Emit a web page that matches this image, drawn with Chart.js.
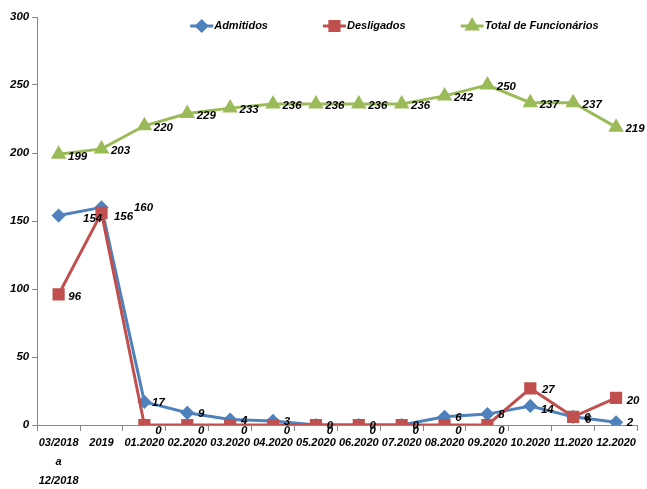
<!DOCTYPE html>
<html>
<head>
<meta charset="utf-8">
<script src="https://cdn.jsdelivr.net/npm/chart.js@4"></script>
<style>
  html, body { margin: 0; padding: 0; background: #fff; }
  #wrap { width: 647px; height: 489px; }
</style>
</head>
<body>
<div id="wrap"><canvas id="myChart"></canvas></div>
<script>
var categories = [['03/2018', 'a', '12/2018'], '2019', '01.2020', '02.2020', '03.2020', '04.2020',
    '05.2020', '06.2020', '07.2020', '08.2020', '09.2020', '10.2020', '11.2020', '12.2020'];
var admitidos = [154, 160, 17, 9, 4, 3, 0, 0, 0, 6, 8, 14, 6, 2];
var desligados = [96, 156, 0, 0, 0, 0, 0, 0, 0, 0, 0, 27, 6, 20];
var totalFunc = [199, 203, 220, 229, 233, 236, 236, 236, 236, 242, 250, 237, 237, 219];
var yTicks = [0, 50, 100, 150, 200, 250, 300];

var FONT = "'Liberation Sans', Arial, sans-serif";
var BLUE = '#4F81BD', RED = '#C0504D', GREEN = '#9BBB59';

// where each value label sits relative to its point
var labelPos = {
    0: { dx: 14, dy: 1, idx: { 0: [34, 3], 1: [42, 0], 11: [17, 4] } },
    1: { dx: 14, dy: 6, idx: { 0: [16, 2], 1: [22, 4], 11: [18, 2], 12: [15, 3], 13: [17, 3] } },
    2: { dx: 19, dy: 2, idx: {} }
};

var valueLabels = {
    id: 'valueLabels',
    afterDatasetsDraw: function (chart) {
        var ctx = chart.ctx;
        ctx.save();
        ctx.font = 'italic bold 11.5px ' + FONT;
        ctx.fillStyle = '#000';
        ctx.textAlign = 'center';
        ctx.textBaseline = 'middle';
        chart.data.datasets.forEach(function (ds, di) {
            var meta = chart.getDatasetMeta(di);
            var p = labelPos[di];
            meta.data.forEach(function (pt, i) {
                var off = p.idx[i] || [p.dx, p.dy];
                ctx.fillText(String(ds.data[i]), pt.x + off[0], pt.y + off[1]);
            });
        });
        ctx.restore();
    }
};

var lineLegend = {
    id: 'lineLegend',
    afterDraw: function (chart) {
        var ctx = chart.ctx;
        var x = chart.chartArea.left + 153;
        var y = 26;
        ctx.save();
        ctx.font = 'italic bold 11px ' + FONT;
        ctx.textBaseline = 'middle';
        chart.data.datasets.forEach(function (ds) {
            ctx.strokeStyle = ds.borderColor;
            ctx.lineWidth = 3;
            ctx.beginPath();
            ctx.moveTo(x, y);
            ctx.lineTo(x + 23, y);
            ctx.stroke();
            Chart.helpers.drawPoint(ctx, {
                pointStyle: ds.pointStyle, radius: ds.pointRadius, rotation: 0, borderWidth: 1
            }, x + 11.5, y);
            ctx.fillStyle = ds.borderColor;
            ctx.fill();
            ctx.fillStyle = '#000';
            ctx.fillText(ds.label, x + 24, y);
            x += 24 + ctx.measureText(ds.label).width + 55;
        });
        ctx.restore();
    }
};

var ctx = document.getElementById('myChart').getContext('2d');
var chart = new Chart(ctx, {
    type: 'line',
    data: {
        labels: categories,
        datasets: [{
            label: 'Admitidos',
            data: admitidos,
            borderColor: BLUE,
            backgroundColor: BLUE,
            borderWidth: 3,
            pointStyle: 'rectRot',
            pointRadius: 5,
            order: 2
        }, {
            label: 'Desligados',
            data: desligados,
            borderColor: RED,
            backgroundColor: RED,
            borderWidth: 3,
            pointStyle: 'rect',
            pointRadius: 6.5,
            order: 1
        }, {
            label: 'Total de Funcionários',
            data: totalFunc,
            borderColor: GREEN,
            backgroundColor: GREEN,
            borderWidth: 3,
            pointStyle: 'triangle',
            pointRadius: 6,
            order: 0
        }]
    },
    options: {
        responsive: true,
        maintainAspectRatio: false,
        animation: false,
        layout: { padding: { left: 7, right: 6, top: 17, bottom: 0 } },
        plugins: {
            legend: { display: false },
            tooltip: { enabled: false }
        },
        scales: {
            x: {
                offset: true,
                grid: { offset: true, drawOnChartArea: false, tickLength: 6, color: '#888' },
                border: { color: '#888' },
                afterFit: function (scale) { scale.height = 64; },
                ticks: {
                    color: '#000',
                    maxRotation: 0,
                    autoSkip: false,
                    padding: 2,
                    font: { family: FONT, size: 11, style: 'italic', weight: 'bold', lineHeight: '19px' }
                }
            },
            y: {
                min: 0,
                max: 300,
                afterBuildTicks: function (axis) {
                    axis.ticks = yTicks.map(function (v) { return { value: v }; });
                },
                grid: { drawOnChartArea: false, tickLength: 5, color: '#888' },
                border: { color: '#888' },
                ticks: {
                    color: '#000',
                    padding: 3,
                    font: { family: FONT, size: 11.5, style: 'italic', weight: 'bold' }
                }
            }
        }
    },
    plugins: [valueLabels, lineLegend]
});
</script>
</body>
</html>
